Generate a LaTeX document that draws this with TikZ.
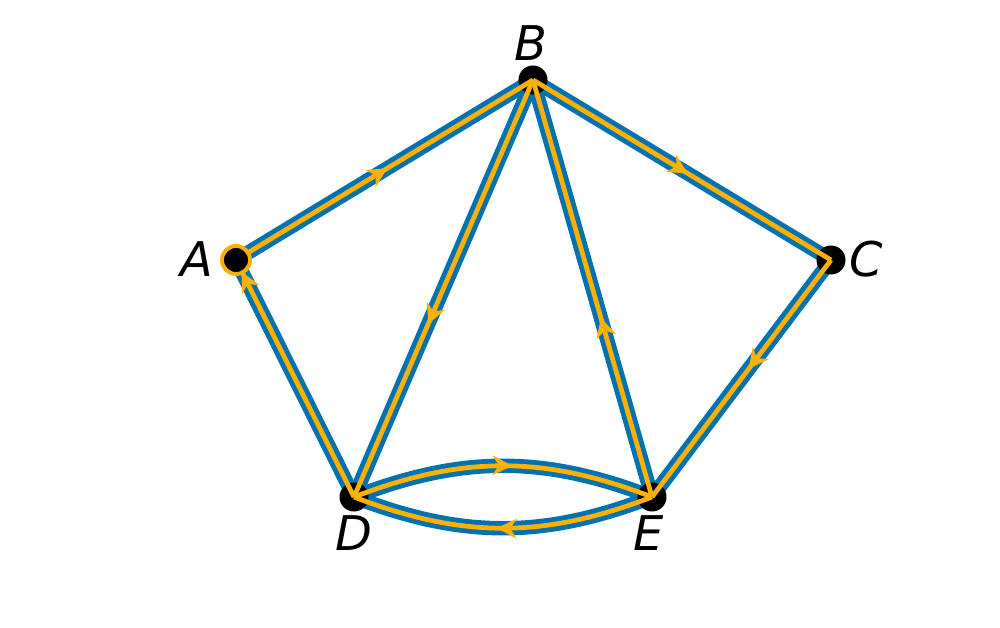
\documentclass[tikz,border=0pt]{standalone}
\usepackage{fontspec}
\setmainfont{DejaVu Sans}
\usetikzlibrary{arrows.meta,decorations.markings}
\definecolor{eblue}{RGB}{0,114,178}
\definecolor{eorange}{RGB}{255,176,0}
\tikzset{
  vdot/.style={circle,fill=black,inner sep=0pt,minimum size=0.29cm},
  startdot/.style={circle,fill=black,draw=eorange,line width=1.1pt,inner sep=0pt,minimum size=0.28cm},
  lbl/.style={anchor=base,inner sep=0pt,font=\fontsize{13.6pt}{16pt}\selectfont\itshape},
  bluepass/.style={draw=eblue,line width=4.1pt},
  orangepass/.style={draw=eorange,line width=1.35pt,
    decoration={markings,mark=at position #1 with {\arrow[eorange]{Stealth[length=5.6pt,width=5.6pt,inset=1.8pt]}}},
    postaction={decorate}}
}
\newcommand\alledges[1]{%
\draw[#1=0.51] (A) -- (B);
\draw[#1=0.52] (B) -- (C);
\draw[#1=0.46] (C) -- (E);
\draw[#1=0.43] (E) -- (B);
\draw[#1=0.585] (B) -- (D);
\draw[#1=0.95] (D) -- (A);
\draw[#1=0.53] (D) to[bend left=21] (E);
\draw[#1=0.52] (E) to[bend left=21] (D);}
\begin{document}
\begin{tikzpicture}[x=0.01cm,y=0.01cm]
\useasboundingbox (0,0) rectangle (1000,627);
\coordinate (A) at (236,367);
\coordinate (B) at (533,547);
\coordinate (C) at (831,367);
\coordinate (D) at (354,130);
\coordinate (E) at (652,130);
\alledges{bluepass}
\node[vdot] (Bdot) at (B) {};
\node[vdot] (Cdot) at (C) {};
\node[vdot] (Ddot) at (D) {};
\node[vdot] (Edot) at (E) {};
\alledges{orangepass}
\node[startdot] (Adot) at (A) {};
\node[lbl] (lA) at (197,350) {A};
\node[lbl] (lB) at (531,566) {B};
\node[lbl] (lC) at (866,350) {C};
\node[lbl] (lD) at (354,77) {D};
\node[lbl] (lE) at (649,77) {E};
\end{tikzpicture}
\end{document}
